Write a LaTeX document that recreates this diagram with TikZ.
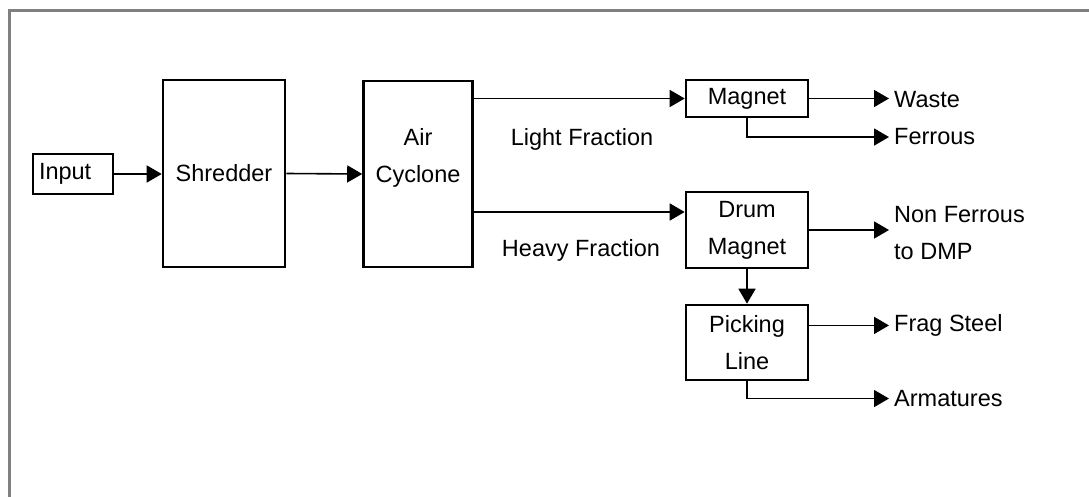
\documentclass[tikz,border=0pt]{standalone}
\usepackage{fontspec}
\setmainfont{Liberation Sans}
\usetikzlibrary{arrows.meta}
\tikzset{
  unit/.style={draw, line width=2.6pt, align=center, inner sep=0pt},
  flow/.style={line width=1.6pt, -{Triangle[length=15pt,width=17pt]}},
  outlbl/.style={anchor=base west, inner xsep=5pt, inner ysep=0pt},
}

\begin{document}
\begin{tikzpicture}
    [x=1pt, y=-1pt, font=\fontsize{23.5}{37}\selectfont]
    \useasboundingbox (0,0) rectangle (1089,497);
    %frame
    \draw[gray, line width=3pt] (9.5,497) -- (9.5,10.5) -- (1089,10.5);
    %units
    \node[unit, text width=68pt, align=left, minimum width=80pt, minimum height=40pt] (input) at (73,174) {Input};
    \node[unit, minimum width=122pt, minimum height=187pt] (shredder) at (224,173.5) {Shredder};
    \node[unit, minimum width=109pt, minimum height=186pt] (cyclone) at (418,174) {Air\\Cyclone\\\mbox{}};
    \node[unit, minimum width=122pt, minimum height=37pt] (magnet) at (747,98.5) {Magnet};
    \node[unit, minimum width=122pt, minimum height=76pt] (drum) at (747,230) {Drum\\Magnet};
    \node[unit, minimum width=122pt, minimum height=75pt] (picking) at (747,342.5) {Picking\\Line};
    %fraction labels
    \node[anchor=base, inner sep=0pt] (light) at (582,145.5) {Light Fraction};
    \node[anchor=base, inner sep=0pt] (heavy) at (581,256.5) {Heavy Fraction};
    %outputs
    \node[outlbl] (waste) at (889,108) {Waste};
    \node[outlbl] (ferrous) at (889,145) {Ferrous};
    \node[outlbl, anchor=west, align=left] (nonferrous) at (889,233) {Non Ferrous\\to DMP};
    \node[outlbl] (fragsteel) at (889,331.5) {Frag Steel};
    \node[outlbl] (armatures) at (889,406.5) {Armatures};
    %flows
    \draw[flow] (input.east) -- (input.east -| shredder.west);
    \draw[flow] (shredder.east) -- (cyclone.west);
    \draw[flow] (cyclone.east |- magnet.west) -- (magnet.west);
    \draw[flow] ([yshift=18pt]drum.west -| cyclone.east) -- ([yshift=18pt]drum.west);
    \draw[flow] (magnet.east) -- (magnet.east -| waste.west);
    \draw[flow] (magnet.south) |- (ferrous.west);
    \draw[flow] (drum.east) -- (drum.east -| nonferrous.west);
    \draw[flow] (drum.south) -- (picking.north);
    \draw[flow] (picking.east |- fragsteel.west) -- (fragsteel.west);
    \draw[flow] (picking.south) |- (armatures.west);
\end{tikzpicture}
\end{document}
